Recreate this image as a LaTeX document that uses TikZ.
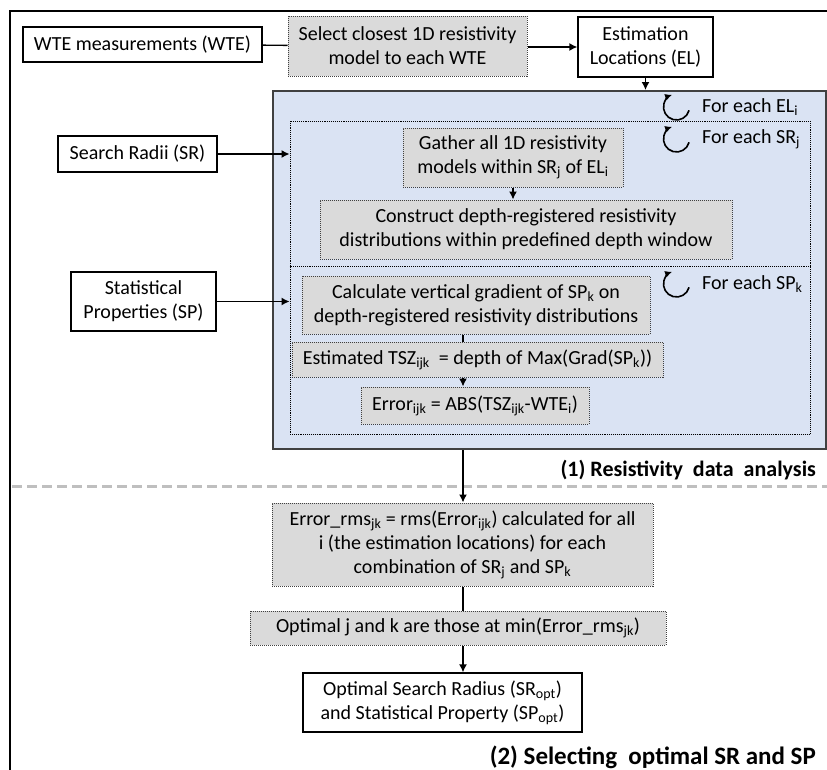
\documentclass[tikz,border=0pt]{standalone}
\usepackage{fontspec}
\setmainfont{Carlito}
\usetikzlibrary{positioning, arrows.meta}
\definecolor{taskgray}{HTML}{DADADA}
\definecolor{loopblue}{HTML}{DAE3F3}
\definecolor{rulegray}{HTML}{BFBFBF}
\begin{document}
\begin{tikzpicture}[x=1pt, y=-1pt]
\tikzstyle{txt}=[font=\fontsize{20}{24}\selectfont]
\tikzstyle{plain}=[txt, rectangle, draw=black, line width=1.3pt, fill=white, align=center, inner sep=0pt]
\tikzstyle{task}=[txt, rectangle, draw=black!75, densely dotted, line width=1pt, fill=taskgray, align=center, inner sep=0pt]
\tikzstyle{loopbox}=[rectangle, draw=black, densely dotted, line width=0.9pt, inner sep=0pt]
\tikzstyle{connect}=[-{Latex[length=8pt, width=8pt]}, line width=1.4pt]
\tikzstyle{link}=[line width=1.4pt]
\tikzstyle{looplabel}=[txt, anchor=west, inner sep=0pt]
\tikzstyle{part}=[anchor=east, inner sep=0pt, font=\bfseries]
    \useasboundingbox (0,0) rectangle (827,769);
    % outer frame, cut by the page edge
    \draw[line width=2.5pt] (10,800) -- (10,11) -- (840,11);
    % (1) resistivity data analysis
    \node[rectangle, draw=black!75, line width=2pt, fill=loopblue, minimum width=553pt, minimum height=358pt] (analysis) at (549.5,270) {};
    \node[loopbox, minimum width=520pt, minimum height=313pt] (srloop) at (550,277.5) {};
    \draw[loopbox] (srloop.west |- 0,266) -- (srloop.east |- 0,266);
    \coordinate (spine) at (463,0);
    \node[plain, minimum width=239pt, minimum height=35pt] (wte) at (142.5,44.5) {WTE measurements (WTE)};
    \node[task, minimum width=239pt, minimum height=60pt] (select) at (407.5,46) {Select closest 1D resistivity\\model to each WTE};
    \node[plain, minimum width=135pt, minimum height=60pt] (el) at (645.5,47) {Estimation\\Locations (EL)};
    \node[plain, minimum width=159pt, minimum height=36pt] (sr) at (137.5,154) {Search Radii (SR)};
    \node[plain, minimum width=145pt, minimum height=59pt] (sp) at (143.5,301.5) {Statistical\\Properties (SP)};
    \node[task, minimum width=220pt, minimum height=59pt] (gather) at (513,157.5) {Gather all 1D resistivity\\models within SR\textsubscript{j} of EL\textsubscript{i}};
    \node[task, minimum width=412pt, minimum height=59pt] (construct) at (526,229.5) {Construct depth-registered resistivity\\distributions within predefined depth window};
    \node[task, minimum width=348pt, minimum height=58pt] (gradient) at (476,305) {Calculate vertical gradient of SP\textsubscript{k} on\\depth-registered resistivity distributions};
    \node[task, minimum width=371pt, minimum height=35pt] (tsz) at (477.5,359.5) {Estimated TSZ\textsubscript{ijk}~ = depth of Max(Grad(SP\textsubscript{k}))};
    \node[task, minimum width=228pt, minimum height=37pt] (error) at (475,405.5) {Error\textsubscript{ijk} = ABS(TSZ\textsubscript{ijk}-WTE\textsubscript{i})};
    % loop markers
    \foreach \cy/\what in {107/{EL\textsubscript{i}}, 139/{SR\textsubscript{j}}, 284/{SP\textsubscript{k}}} {
        \coordinate (turn\cy) at (676.5,\cy);
        \draw[-{Latex[length=7pt, width=7pt]}, line width=1.6pt] ([shift={(-15:13pt)}]turn\cy) arc[start angle=-15, end angle=-250, radius=13pt];
        \node[looplabel] (for\cy) at (702,\cy) {For each \what};
    }
    \node[part, font=\fontsize{22}{26}\bfseries] (partone) at (816,470) {(1) Resistivity\ \ data\ \ analysis};
    \draw[rulegray, line width=3pt, dash pattern=on 10pt off 5pt] (12,486) -- (827,486);
    % (2) selecting optimal SR and SP
    \node[task, minimum width=381pt, minimum height=83pt] (rms) at (462.5,544.5) {Error\_rms\textsubscript{jk} = rms(Error\textsubscript{ijk}) calculated for all\\i (the estimation locations) for each\\combination of SR\textsubscript{j} and SP\textsubscript{k}};
    \node[task, minimum width=416pt, minimum height=34pt] (minrms) at (458,628) {Optimal j and k are those at min(Error\_rms\textsubscript{jk})};
    \node[plain, minimum width=279pt, minimum height=59pt] (opt) at (442.5,702.5) {Optimal Search Radius (SR\textsubscript{opt})\\and Statistical Property (SP\textsubscript{opt})};
    \node[part, font=\fontsize{25}{30}\bfseries] (parttwo) at (816,757) {(2) Selecting\ \ optimal SR and SP};
    % connectors
    \draw[link] (wte) -- (select);
    \draw[connect] (select.east |- el) -- (el);
    \draw[connect] (el.south) -- (el.south |- analysis.north);
    \draw[connect] (sr.east) -- (sr.east -| srloop.west);
    \draw[connect] (sp.east) -- (sp.east -| srloop.west);
    \draw[connect] (gather.south) -- (gather.south |- construct.north);
    \draw[link] (gradient.south -| spine) -- (tsz.north -| spine);
    \draw[connect] (tsz.south -| spine) -- (error.north -| spine);
    \draw[connect] (analysis.south -| spine) -- (rms.north -| spine);
    \draw[link] (rms.south -| spine) -- (minrms.north -| spine);
    \draw[connect] (minrms.south -| spine) -- (opt.north -| spine);
\end{tikzpicture}
\end{document}
